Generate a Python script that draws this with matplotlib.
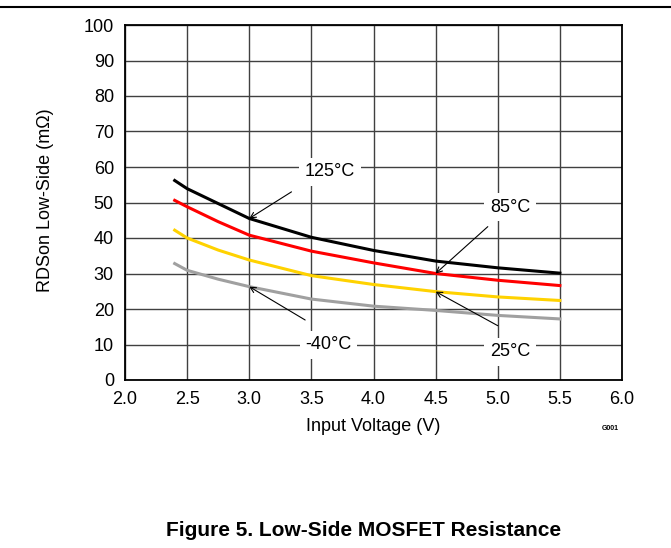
import matplotlib.pyplot as plt
from matplotlib.lines import Line2D

plt.rcParams["font.family"] = ["Liberation Sans", "DejaVu Sans"]

# values
voltage = [2.4, 2.5, 2.75, 3.0, 3.5, 4.0, 4.5, 5.0, 5.5]
rds_125 = [56.2, 53.9, 49.7, 45.5, 40.2, 36.5, 33.5, 31.6, 30.1]
rds_85 = [50.6, 48.8, 44.6, 40.8, 36.3, 33.0, 30.0, 28.1, 26.6]
rds_25 = [42.2, 40.0, 36.6, 33.8, 29.4, 26.9, 24.9, 23.4, 22.4]
rds_m40 = [32.8, 30.9, 28.4, 26.3, 22.8, 20.8, 19.6, 18.2, 17.2]

x_ticks = [2.0, 2.5, 3.0, 3.5, 4.0, 4.5, 5.0, 5.5, 6.0]
y_ticks = [0, 10, 20, 30, 40, 50, 60, 70, 80, 90, 100]

# label text, label position, arrow tail, arrow head
labels = [
    ("125°C", (3.65, 58.6), (3.34, 53.0), (3.0, 45.5)),
    ("85°C", (5.10, 48.7), (4.92, 43.2), (4.5, 30.0)),
    ("25°C", (5.10, 7.9), (5.0, 15.3), (4.5, 24.9)),
    ("-40°C", (3.64, 9.9), (3.45, 16.9), (3.0, 26.3)),
]

fig = plt.figure(figsize=(6.71, 5.48), dpi=100)
ax = fig.add_axes([125 / 671, 1 - 380 / 548, 497 / 671, 355 / 548])

ax.plot(voltage, rds_125, color="black", lw=2.2, zorder=3)
ax.plot(voltage, rds_85, color="#ff0000", lw=2.2, zorder=3)
ax.plot(voltage, rds_25, color="#ffd200", lw=2.2, zorder=3)
ax.plot(voltage, rds_m40, color="#a0a0a0", lw=2.2, zorder=3)

ax.set_xlim(2.0, 6.0)
ax.set_ylim(0, 100)
ax.set_xticks(x_ticks)
ax.set_xticklabels([f"{v:.1f}" for v in x_ticks])
ax.set_yticks(y_ticks)
ax.grid(True, color="#404040", lw=1.0)
ax.set_axisbelow(True)
ax.tick_params(length=0, labelsize=13, colors="black")
ax.tick_params(axis="x", pad=8)
ax.tick_params(axis="y", pad=8)
for s in ax.spines.values():
    s.set_color("black")
    s.set_linewidth(1.3)

ax.set_xlabel("Input Voltage (V)", fontsize=13, labelpad=7)
ax.set_ylabel("RDSon Low-Side (mΩ)", fontsize=13)
ax.yaxis.set_label_coords(-0.143, 0.507)

for text, pos, tail, head in labels:
    ax.text(pos[0], pos[1], text, fontsize=13, ha="center", va="center",
            bbox=dict(facecolor="white", edgecolor="none", pad=4), zorder=4)
    ax.annotate("", xy=head, xytext=tail,
                arrowprops=dict(arrowstyle="->", color="black", lw=0.8,
                                mutation_scale=10, shrinkA=0, shrinkB=0),
                zorder=5)

fig.text(610 / 671, 1 - 428 / 548, "G001", fontsize=5, fontweight="bold",
         ha="center", va="center")
fig.text(364 / 671, 1 - 530 / 548, "Figure 5. Low-Side MOSFET Resistance",
         fontsize=15, fontweight="bold", ha="center", va="center")
fig.add_artist(Line2D([0, 1], [1 - 7 / 548, 1 - 7 / 548], color="black", lw=1.5))

fig.savefig("out.png", dpi=100)
